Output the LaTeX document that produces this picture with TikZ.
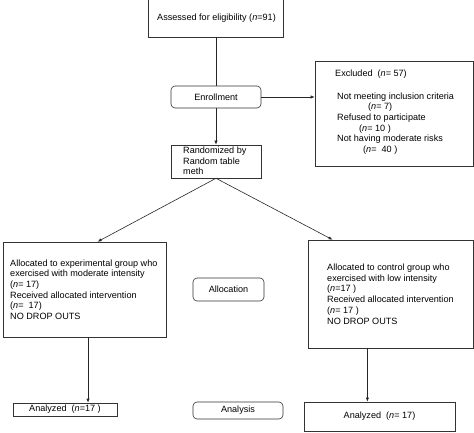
\documentclass[tikz,border=0pt]{standalone}
\usepackage{fontspec}
\setmainfont{Liberation Sans}
\usetikzlibrary{arrows.meta,calc,positioning}

\newcommand{\nn}{\textit{n}}

\begin{document}
\begin{tikzpicture}[x=1pt,y=-1pt,
  every node/.style={font=\fontsize{9.1}{10.7}\selectfont},
  box/.style={draw=black!80, line width=0.6pt, inner sep=0pt},
  rbox/.style={box, rounded corners=4pt},
  txt/.style={anchor=west, align=left, inner sep=0pt},
  arr/.style={draw=black!85, line width=0.6pt, -{Latex[length=4pt,width=3.2pt]}},
  link/.style={draw=black!85, line width=0.6pt}]
  \useasboundingbox (0,0) rectangle (474,433);

  % 1) top of the flow: screening, enrollment, randomization
  \node[box, minimum width=135, minimum height=42] (assess) at (216,16) {};
  \node[txt, anchor=center] (assesstxt) at (216.5,18) {Assessed for eligibility (\nn=91)};
  \node[rbox, minimum width=90, minimum height=22] (enroll) at (216,97) {Enrollment};
  \node[box, minimum width=90, minimum height=33] (rand) at (216,161.5) {};
  \node[txt] (randtxt) at (183,161) {Randomized by\\Random table\\meth};

  % 2) excluded participants
  \node[box, minimum width=158, minimum height=105] (excl) at (394,113.5) {};
  \node[txt] (excltitle) at (335,74) {Excluded\ \ (\nn= 57)};
  \node[txt] (excltxt) at (337,123.5) {Not meeting inclusion criteria\\
    \hspace*{31pt}(\nn= 7)\\
    Refused to participate\\
    \hspace*{22pt}(\nn= 10 )\\
    Not having moderate risks\\
    \hspace*{26pt}(\nn=\ \ 40 )};

  % 3) allocation
  \node[box, minimum width=163, minimum height=95] (leftalloc) at (84.5,289.5) {};
  \node[txt] (leftalloctxt) at (10,289.5) {Allocated to experimental group who\\
    exercised with moderate intensity\\
    (\nn= 17)\\
    Received allocated intervention\\
    (\nn=\ \ 17)\\
    NO DROP OUTS};
  \node[rbox, minimum width=71, minimum height=23] (alloc) at (228.5,289.5) {Allocation};
  \node[box, minimum width=165, minimum height=108] (rightalloc) at (390.5,294) {};
  \node[txt] (rightalloctxt) at (327,294) {Allocated to control group who\\
    exercised with low intensity\\
    (\nn=17 )\\
    Received allocated intervention\\
    (\nn= 17 )\\
    NO DROP OUTS};

  % 4) analysis
  \node[box, minimum width=104, minimum height=13] (leftana) at (65,409.5) {Analyzed\ \ (\nn=17 )};
  \node[rbox, minimum width=90, minimum height=17] (ana) at (238,410.5) {Analysis};
  \node[box, minimum width=151, minimum height=29] (rightana) at (379.5,416.5) {Analyzed\ \ (\nn= 17)};

  % connectors
  \coordinate (lhit) at ($(leftalloc.north west)!0.58!(leftalloc.north east)$);
  \coordinate (rhit) at ($(rightalloc.north west)!0.15!(rightalloc.north east)$);
  \coordinate (lend) at ($(leftana.north west)!0.72!(leftana.north east)$);
  \coordinate (rend) at ($(rightana.north west)!0.42!(rightana.north east)$);

  \draw[link] (assess) -- (enroll);
  \draw[arr] (enroll.east) -- (enroll.east -| excl.west);
  \draw[arr] (enroll) -- (rand);
  \draw[arr] (rand.south) -- (lhit);
  \draw[arr] (rand.south) -- (rhit);
  \draw[arr] (leftalloc.south -| lend) -- (lend);
  \draw[arr] (rightalloc.south -| rend) -- (rend);
\end{tikzpicture}
\end{document}
